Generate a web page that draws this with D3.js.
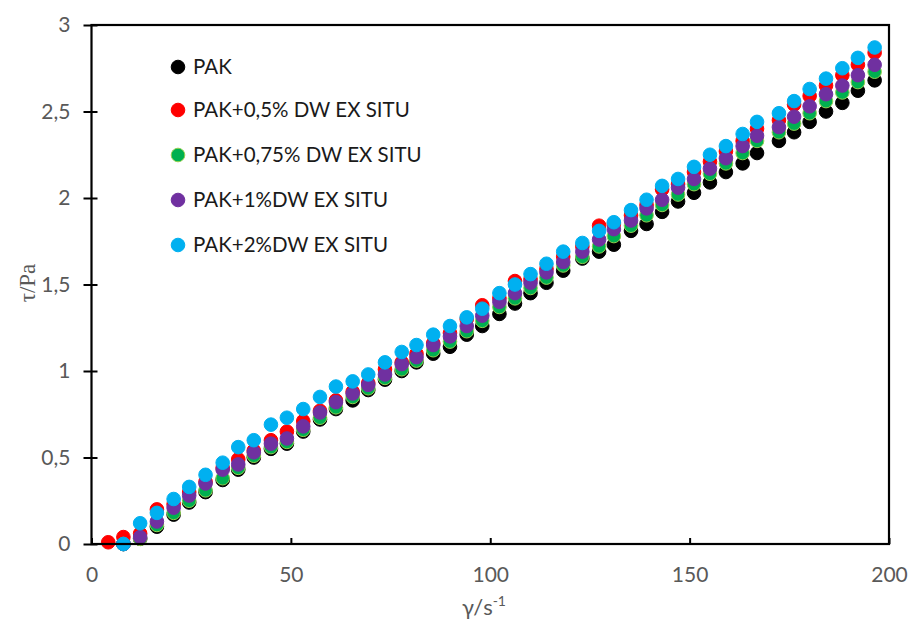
<!DOCTYPE html>
<html>
<head>
<meta charset="utf-8">
<script src="https://cdn.jsdelivr.net/npm/d3@7"></script>
<style>
  html, body { margin: 0; padding: 0; background: #fff; }
  svg { display: block; }
</style>
</head>
<body>
<svg id="chart" width="912" height="630"></svg>
<script>
// ---- data ----
const shearRate = [4.2, 8.0, 12.2, 16.4, 20.6, 24.5, 28.6, 32.9, 36.8, 40.7, 45.0, 49.0, 53.1, 57.3, 61.3, 65.5,
  69.4, 73.6, 77.8, 81.5, 85.7, 89.9, 94.1, 98.0, 102.3, 106.2, 110.1, 114.1, 118.3, 123.1, 127.3, 131.0,
  135.3, 139.2, 143.1, 147.1, 151.1, 155.1, 159.1, 163.3, 166.9, 172.4, 176.2, 180.1, 184.2, 188.3, 192.2, 196.4];

const seriesNames = ["PAK", "PAK+0,5% DW EX SITU", "PAK+0,75% DW EX SITU", "PAK+1%DW EX SITU", "PAK+2%DW EX SITU"];

const pak = [null, 0.00, 0.03, 0.10, 0.17, 0.24, 0.30, 0.37, 0.43, 0.50, 0.55, 0.58, 0.65, 0.72, 0.78, 0.83,
  0.89, 0.95, 1.00, 1.05, 1.10, 1.14, 1.21, 1.26, 1.33, 1.39, 1.45, 1.51, 1.58, 1.65, 1.69, 1.73,
  1.81, 1.85, 1.92, 1.98, 2.03, 2.09, 2.15, 2.20, 2.26, 2.33, 2.38, 2.44, 2.50, 2.55, 2.62, 2.68];

const pak05 = [0.01, 0.04, 0.06, 0.20, 0.23, 0.30, 0.36, 0.44, 0.49, 0.54, 0.60, 0.65, 0.71, 0.77, 0.83, 0.88,
  0.93, 1.01, 1.05, 1.10, 1.16, 1.22, 1.30, 1.38, 1.42, 1.52, 1.53, 1.59, 1.66, 1.72, 1.84, 1.85,
  1.90, 1.96, 2.05, 2.08, 2.15, 2.21, 2.27, 2.33, 2.40, 2.45, 2.54, 2.59, 2.65, 2.71, 2.77, 2.84];

const pak075 = [null, 0.00, 0.03, 0.11, 0.18, 0.25, 0.31, 0.38, 0.44, 0.51, 0.56, 0.59, 0.66, 0.73, 0.79, 0.85,
  0.90, 0.96, 1.01, 1.06, 1.12, 1.17, 1.23, 1.29, 1.37, 1.42, 1.48, 1.54, 1.61, 1.66, 1.72, 1.78,
  1.84, 1.90, 1.96, 2.02, 2.08, 2.14, 2.20, 2.26, 2.33, 2.38, 2.43, 2.49, 2.56, 2.61, 2.67, 2.73];

const pak1 = [null, 0.00, 0.04, 0.13, 0.21, 0.28, 0.35, 0.43, 0.46, 0.53, 0.58, 0.61, 0.68, 0.76, 0.82, 0.87,
  0.92, 0.98, 1.04, 1.08, 1.15, 1.20, 1.26, 1.32, 1.40, 1.45, 1.51, 1.57, 1.63, 1.69, 1.76, 1.82,
  1.87, 1.94, 1.99, 2.06, 2.11, 2.17, 2.23, 2.30, 2.36, 2.41, 2.47, 2.53, 2.60, 2.65, 2.71, 2.77];

const pak2 = [null, 0.00, 0.12, 0.18, 0.26, 0.33, 0.40, 0.47, 0.56, 0.60, 0.69, 0.73, 0.78, 0.85, 0.91, 0.94,
  0.98, 1.05, 1.11, 1.15, 1.21, 1.26, 1.31, 1.36, 1.45, 1.50, 1.56, 1.62, 1.69, 1.74, 1.81, 1.86,
  1.93, 1.99, 2.07, 2.11, 2.18, 2.25, 2.30, 2.37, 2.44, 2.49, 2.56, 2.63, 2.69, 2.75, 2.81, 2.87];

const xTickValues = [0, 50, 100, 150, 200];
const xTickLabels = ["0", "50", "100", "150", "200"];
const yTickValues = [0, 0.5, 1, 1.5, 2, 2.5, 3];
const yTickLabels = ["0", "0,5", "1", "1,5", "2", "2,5", "3"];

// ---- styles ----
const fills = ["#000000", "#ff0000", "#00b050", "#7030a0", "#00b0f0"];
const strokes = ["#000000", "#ff0000", "#92d050", "#7030a0", "#00b0f0"];
const sans = "Lato, 'Open Sans', sans-serif";

const svg = d3.select("#chart");
const plotLeft = 91.5, plotRight = 889, plotTop = 25, plotBottom = 544;

const x = d3.scaleLinear().domain([0, 200]).range([plotLeft, plotRight]);
const y = d3.scaleLinear().domain([0, 3]).range([plotBottom, plotTop]);

const seriesValues = [pak, pak05, pak075, pak1, pak2];

// points
seriesValues.forEach((vals, si) => {
  const pts = shearRate.map((sr, i) => ({ sr, v: vals[i] })).filter(d => d.v !== null);
  svg.append("g").selectAll("circle").data(pts).join("circle")
    .attr("cx", d => x(d.sr))
    .attr("cy", d => y(d.v))
    .attr("r", 6.8)
    .attr("fill", fills[si])
    .attr("stroke", strokes[si])
    .attr("stroke-width", 1);
});

// frame
svg.append("rect")
  .attr("x", plotLeft).attr("y", plotTop)
  .attr("width", plotRight - plotLeft).attr("height", plotBottom - plotTop)
  .attr("fill", "none").attr("stroke", "#000").attr("stroke-width", 2.2);

// y axis
const yAxis = svg.append("g").attr("transform", `translate(${plotLeft},0)`)
  .call(d3.axisLeft(y).tickValues(yTickValues).tickFormat((d, i) => yTickLabels[i]).tickSize(8).tickPadding(13));
yAxis.select(".domain").remove();
yAxis.selectAll(".tick line").attr("x1", 6).attr("x2", -8).attr("stroke", "#000").attr("stroke-width", 2);
yAxis.selectAll(".tick text")
  .attr("font-family", sans).attr("font-size", 21).attr("fill", "#595959");

// x axis
const xAxis = svg.append("g").attr("transform", `translate(0,${plotBottom})`)
  .call(d3.axisBottom(x).tickValues(xTickValues).tickFormat((d, i) => xTickLabels[i]).tickSize(0).tickPadding(23));
xAxis.select(".domain").remove();
xAxis.selectAll(".tick").append("line").attr("y1", 0).attr("y2", -6).attr("stroke", "#000").attr("stroke-width", 2);
xAxis.selectAll(".tick text")
  .attr("font-family", sans).attr("font-size", 21).attr("fill", "#595959");

// axis titles
const xt = svg.append("text").attr("x", 484).attr("y", 615).attr("text-anchor", "middle")
  .attr("font-family", sans).attr("font-size", 22).attr("fill", "#595959");
xt.append("tspan").text("γ/s");
xt.append("tspan").attr("dy", -9).attr("font-size", 14).text("-1");

svg.append("text").attr("transform", "translate(35,283) rotate(-90)").attr("text-anchor", "middle")
  .attr("font-family", "'Liberation Serif', 'DejaVu Serif', serif").attr("font-size", 23).attr("fill", "#595959")
  .text("τ/Pa");

// legend
const legendY = [67, 110, 155, 200, 245];
const leg = svg.append("g");
seriesNames.forEach((name, i) => {
  leg.append("circle").attr("cx", 178).attr("cy", legendY[i]).attr("r", 6.8)
    .attr("fill", fills[i]).attr("stroke", strokes[i]).attr("stroke-width", 1);
  leg.append("text").attr("x", 193).attr("y", legendY[i]).attr("dy", "0.36em")
    .attr("font-family", sans).attr("font-size", 20.5).attr("fill", "#1a1a1a")
    .text(name);
});
</script>
</body>
</html>
